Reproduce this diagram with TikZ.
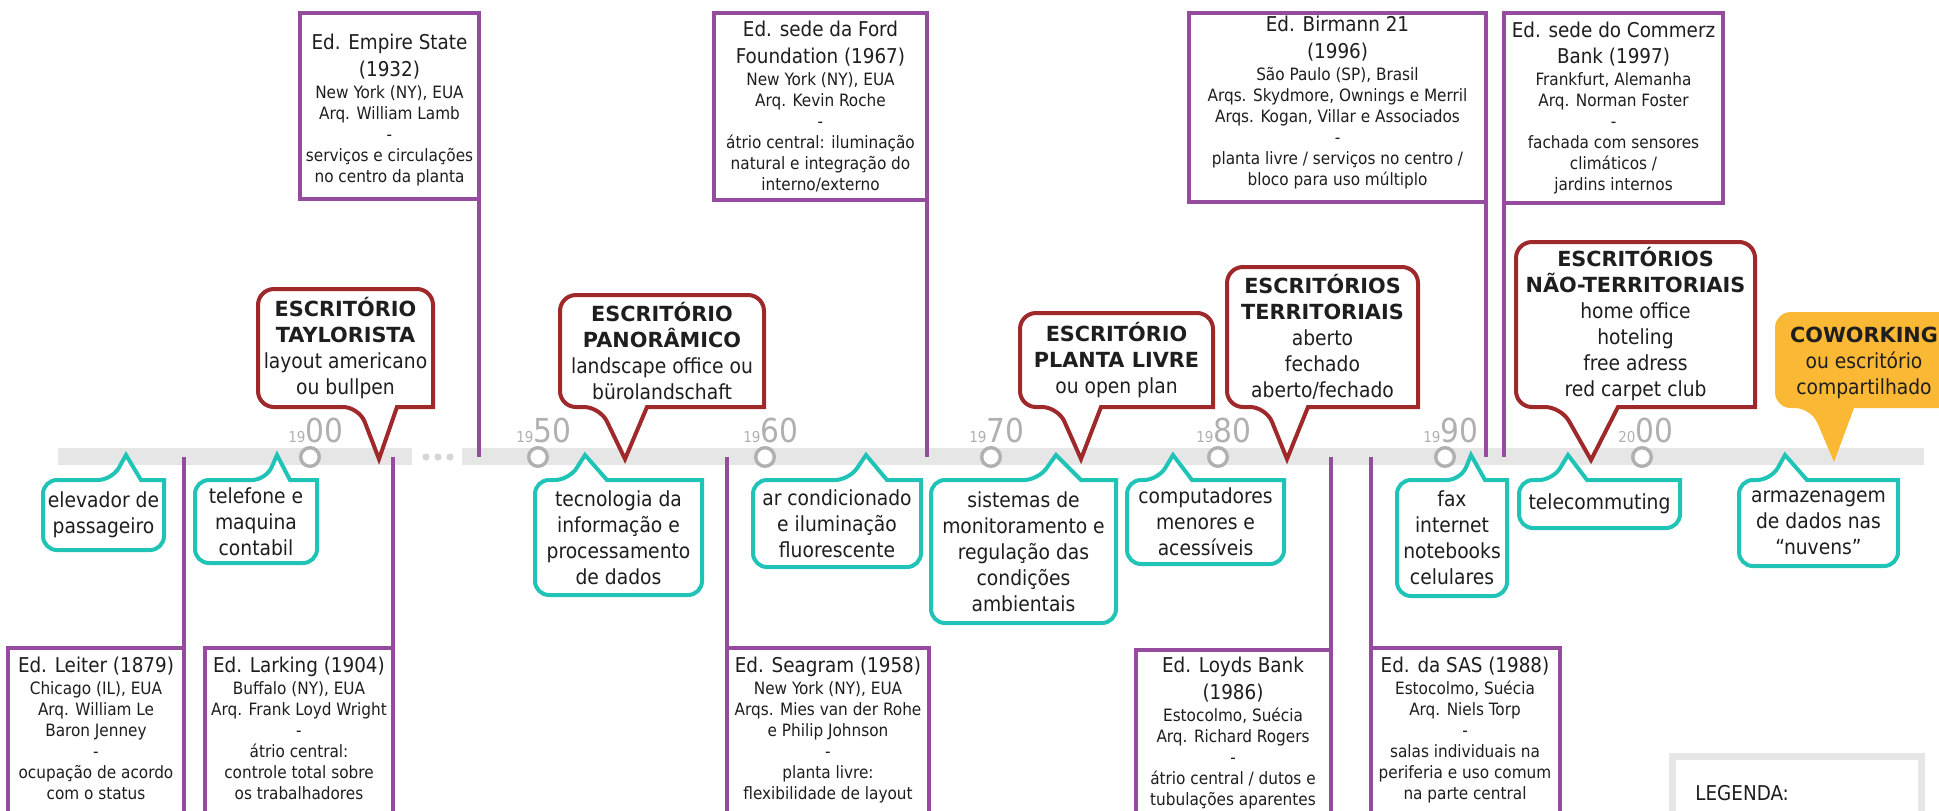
\documentclass[tikz,border=0pt]{standalone}
\usepackage{fontspec}
\setmainfont{DejaVu Sans Condensed}[BoldFont={DejaVu Sans Bold}]
\usetikzlibrary{fit,calc}
\pgfdeclarelayer{bglayer}
\pgfdeclarelayer{shplayer}
\pgfsetlayers{bglayer,shplayer,main}
\definecolor{pur}{RGB}{150,76,158}
\definecolor{cya}{RGB}{32,196,182}
\definecolor{redd}{RGB}{158,40,42}
\definecolor{ora}{RGB}{251,184,52}
\definecolor{barg}{RGB}{230,230,230}
\definecolor{dotg}{RGB}{214,214,214}
\definecolor{yrg}{RGB}{176,176,176}
\definecolor{txt}{RGB}{30,30,30}
\newcommand\ptitle{\fontsize{10.2pt}{13pt}\selectfont}
\newcommand\psmall{\fontsize{8.5pt}{10.5pt}\selectfont}
\newcommand\ctxt{\fontsize{10.4pt}{13pt}\selectfont}
\newcommand\yrsmall{\fontsize{7.5pt}{8pt}\selectfont}
\newcommand\yrbig{\fontsize{16.5pt}{17pt}\selectfont}
\newcommand\upcall[5]{%
\begin{pgfonlayer}{shplayer}
\draw[cyanshape] (#1.south) [rounded corners=7pt] -- (#1.south west) -- (#1.north west) -- (#2,0 |- #1.north) [sharp corners] -- (#4,#5) -- (#3,0 |- #1.north) -- (#1.north east) [rounded corners=7pt] -- (#1.south east) -- cycle;
\end{pgfonlayer}}
\newcommand\downcall[6]{%
\begin{pgfonlayer}{shplayer}
\path[#1] (#2.north) [rounded corners=8pt] -- (#2.north west) -- (#2.south west) -- (#3,0 |- #2.south) [sharp corners] -- (#5,#6) -- (#4,0 |- #2.south) -- (#2.south east) [rounded corners=8pt] -- (#2.north east) -- cycle;
\end{pgfonlayer}}
\tikzset{
  area/.style={inner sep=0pt, outer sep=0pt},
  pbox/.style={area, draw=pur, line width=1.7pt, fill=white},
  ptext/.style={inner sep=0pt, outer sep=0pt, align=center, text=txt, font=\psmall},
  ctext/.style={inner sep=0pt, outer sep=0pt, align=center, text=txt, font=\ctxt},
  cyanshape/.style={draw=cya, line width=2pt, fill=white},
  redshape/.style={draw=redd, line width=2pt, fill=white},
  orashape/.style={fill=ora},
  pline/.style={draw=pur, line width=1.7pt},
  yearcirc/.style={circle, draw=yrg, line width=1.7pt, fill=white, minimum size=9.3pt, inner sep=0pt},
  yearlab/.style={inner sep=0pt, anchor=base west, text=yrg},
}
\begin{document}
\begin{tikzpicture}[x=0.5pt,y=-0.5pt]
\begin{pgfonlayer}{bglayer}
\fill[white] (0,0) rectangle (1939,810);
\fill[barg] (58,448) rectangle (412,465);
\fill[barg] (462,448) rectangle (1924,465);
\end{pgfonlayer}
\clip (0,0) rectangle (1939,810);
\coordinate (barmid) at (0,457);
\foreach \x in {426,438,450} \fill[dotg] (\x,457) circle (1.8pt);

% year markers
\node[yearcirc] (c1900) at (310,457) {};
\node[yearcirc] (c1950) at (538,457) {};
\node[yearcirc] (c1960) at (765,457) {};
\node[yearcirc] (c1970) at (991,457) {};
\node[yearcirc] (c1980) at (1218,457) {};
\node[yearcirc] (c1990) at (1445,457) {};
\node[yearcirc] (c2000) at (1642,457) {};
\node[yearlab] (l1900) at (288,442) {{\yrsmall 19}{\yrbig 00}};
\node[yearlab] (l1950) at (516,442) {{\yrsmall 19}{\yrbig 50}};
\node[yearlab] (l1960) at (743,442) {{\yrsmall 19}{\yrbig 60}};
\node[yearlab] (l1970) at (969,442) {{\yrsmall 19}{\yrbig 70}};
\node[yearlab] (l1980) at (1196,442) {{\yrsmall 19}{\yrbig 80}};
\node[yearlab] (l1990) at (1423,442) {{\yrsmall 19}{\yrbig 90}};
\node[yearlab] (l2000) at (1618,442) {{\yrsmall 20}{\yrbig 00}};

% top building boxes
\node[pbox, fit={(300,13) (479,199)}] (empb) {};
\node[pbox, fit={(714,13) (927,200)}] (fordb) {};
\node[pbox, fit={(1189,13) (1486,202)}] (birmb) {};
\node[pbox, fit={(1504,13) (1723,203)}] (commb) {};
\node[ptext, yshift=-2pt] (emp) at (empb.center) {{\ptitle Ed. Empire State}\\[2.8pt]{\ptitle (1932)}\\[0.5pt]New York (NY), EUA\\Arq. William Lamb\\-\\serviços e circulações\\no centro da planta};
\node[ptext] (ford) at (fordb.center) {{\ptitle Ed. sede da Ford}\\[2.8pt]{\ptitle Foundation (1967)}\\[0.5pt]New York (NY), EUA\\Arq. Kevin Roche\\-\\átrio central: iluminação\\natural e integração do\\interno/externo};
\node[ptext, yshift=2.5pt] (birm) at (birmb.center) {{\ptitle Ed. Birmann 21}\\[2.8pt]{\ptitle (1996)}\\[0.5pt]São Paulo (SP), Brasil\\Arqs. Skydmore, Ownings e Merril\\Arqs. Kogan, Villar e Associados\\-\\planta livre / serviços no centro /\\bloco para uso múltiplo};
\node[ptext] (comm) at (commb.center) {{\ptitle Ed. sede do Commerz}\\[2.8pt]{\ptitle Bank (1997)}\\[0.5pt]Frankfurt, Alemanha\\Arq. Norman Foster\\-\\fachada com sensores\\climáticos /\\jardins internos};
\draw[pline] (empb.south east) -- (empb.south east |- barmid);
\draw[pline] (fordb.south east) -- (fordb.south east |- barmid);
\draw[pline] (birmb.south east) -- (birmb.south east |- barmid);
\draw[pline] (commb.south west) -- (commb.south west |- barmid);

% bottom building boxes
\node[pbox, fit={(8,648) (184,850)}] (leitb) {};
\node[pbox, fit={(205,648) (393,850)}] (larkb) {};
\node[pbox, fit={(727,648) (929,850)}] (seagb) {};
\node[pbox, fit={(1136,650) (1331,850)}] (loydb) {};
\node[pbox, fit={(1371,648) (1560,850)}] (sasb) {};
\node[ptext, anchor=north] (leit) at (96,657) {{\ptitle Ed. Leiter (1879)}\\[0.5pt]Chicago (IL), EUA\\Arq. William Le\\Baron Jenney\\-\\ocupação de acordo\\com o status};
\node[ptext, anchor=north] (lark) at (299,657) {{\ptitle Ed. Larking (1904)}\\[0.5pt]Buffalo (NY), EUA\\Arq. Frank Loyd Wright\\-\\átrio central:\\controle total sobre\\os trabalhadores};
\node[ptext, anchor=north] (seag) at (828,657) {{\ptitle Ed. Seagram (1958)}\\[0.5pt]New York (NY), EUA\\Arqs. Mies van der Rohe\\e Philip Johnson\\-\\planta livre:\\flexibilidade de layout};
\node[ptext, anchor=north] (loyd) at (1233,657) {{\ptitle Ed. Loyds Bank}\\[2.8pt]{\ptitle (1986)}\\[0.5pt]Estocolmo, Suécia\\Arq. Richard Rogers\\-\\átrio central / dutos e\\tubulações aparentes};
\node[ptext, anchor=north] (sas) at (1465,657) {{\ptitle Ed. da SAS (1988)}\\[0.5pt]Estocolmo, Suécia\\Arq. Niels Torp\\-\\salas individuais na\\periferia e uso comum\\na parte central};
\draw[pline] (leitb.north east) -- (leitb.north east |- barmid);
\draw[pline] (larkb.north east) -- (larkb.north east |- barmid);
\draw[pline] (seagb.north west) -- (seagb.north west |- barmid);
\draw[pline] (loydb.north east) -- (loydb.north east |- barmid);
\draw[pline] (sasb.north west) -- (sasb.north west |- barmid);

% technology callouts (cyan)
\node[area, fit={(43,480) (164,550)}] (elevb) {};
\node[ctext] (elev) at (elevb.center) {elevador de\\passageiro};
\upcall{elevb}{112}{141}{126}{455}
\node[area, fit={(195,480) (317,563)}] (telb) {};
\node[ctext] (tel) at (telb.center) {telefone e\\maquina\\contabil};
\upcall{telb}{266}{290}{277}{455}
\node[area, fit={(535,480) (702,595)}] (tecb) {};
\node[ctext] (tec) at (tecb.center) {tecnologia da\\informação e\\processamento\\de dados};
\upcall{tecb}{569}{607}{585}{455}
\node[area, fit={(753,480) (921,567)}] (arcb) {};
\node[ctext] (arc) at (arcb.center) {ar condicionado\\e iluminação\\fluorescente};
\upcall{arcb}{849}{887}{866}{455}
\node[area, fit={(931,480) (1116,623)}] (sisb) {};
\node[ctext] (sis) at (sisb.center) {sistemas de\\monitoramento e\\regulação das\\condições\\ambientais};
\upcall{sisb}{1038}{1081}{1056}{455}
\node[area, fit={(1127,480) (1284,564)}] (compb) {};
\node[ctext] (comp) at (compb.center) {computadores\\menores e\\acessíveis};
\upcall{compb}{1158}{1192}{1173}{455}
\node[area, fit={(1397,480) (1507,596)}] (faxb) {};
\node[ctext] (fax) at (faxb.center) {fax\\internet\\notebooks\\celulares};
\upcall{faxb}{1461}{1485}{1471}{455}
\node[area, fit={(1519,480) (1680,528)}] (teleb) {};
\node[ctext] (tele) at (teleb.center) {telecommuting};
\upcall{teleb}{1553}{1587}{1568}{455}
\node[area, fit={(1739,480) (1898,566)}] (armb) {};
\node[ctext] (arm) at (armb.center) {armazenagem\\de dados nas\\“nuvens”};
\upcall{armb}{1771}{1807}{1785}{455}

% office type callouts (red)
\node[area, fit={(258,289) (433,407)}] (tayb) {};
\node[ctext] (tay) at (tayb.center) {{\bfseries ESCRITÓRIO}\\{\bfseries TAYLORISTA}\\layout americano\\ou bullpen};
\downcall{redshape}{tayb}{359}{397}{379}{459}
\node[area, fit={(560,295) (764,407)}] (panb) {};
\node[ctext] (pan) at (panb.center) {{\bfseries ESCRITÓRIO}\\{\bfseries PANORÂMICO}\\landscape office ou\\bürolandschaft};
\downcall{redshape}{panb}{600}{647}{625}{459}
\node[area, fit={(1020,313) (1213,407)}] (plab) {};
\node[ctext] (pla) at (plab.center) {{\bfseries ESCRITÓRIO}\\{\bfseries PLANTA LIVRE}\\ou open plan};
\downcall{redshape}{plab}{1058}{1101}{1081}{459}
\node[area, fit={(1227,267) (1418,407)}] (terb) {};
\node[ctext] (ter) at (terb.center) {{\bfseries ESCRITÓRIOS}\\{\bfseries TERRITORIAIS}\\aberto\\fechado\\aberto/fechado};
\downcall{redshape}{terb}{1266}{1308}{1287}{459}
\node[area, fit={(1516,242) (1755,407)}] (naob) {};
\node[ctext] (nao) at (naob.center) {{\bfseries ESCRITÓRIOS}\\{\bfseries NÃO-TERRITORIAIS}\\home office\\hoteling\\free adress\\red carpet club};
\downcall{redshape}{naob}{1561}{1618}{1591}{460}
\node[area, fit={(1775,312) (1953,408)}] (cowb) {};
\node[ctext, yshift=-1.5pt] (cow) at (cowb.center) {{\bfseries COWORKING}\\ou escritório\\compartilhado};
\downcall{orashape}{cowb}{1811}{1854}{1834}{462}

% legend
\draw[barg, line width=3.5pt] (1672.5,756.5) rectangle (1921.5,860);
\node[inner sep=0pt, anchor=base west, text=txt, font=\fontsize{10.2pt}{12pt}\selectfont] (leg) at (1695,800) {LEGENDA:};
\end{tikzpicture}
\end{document}
